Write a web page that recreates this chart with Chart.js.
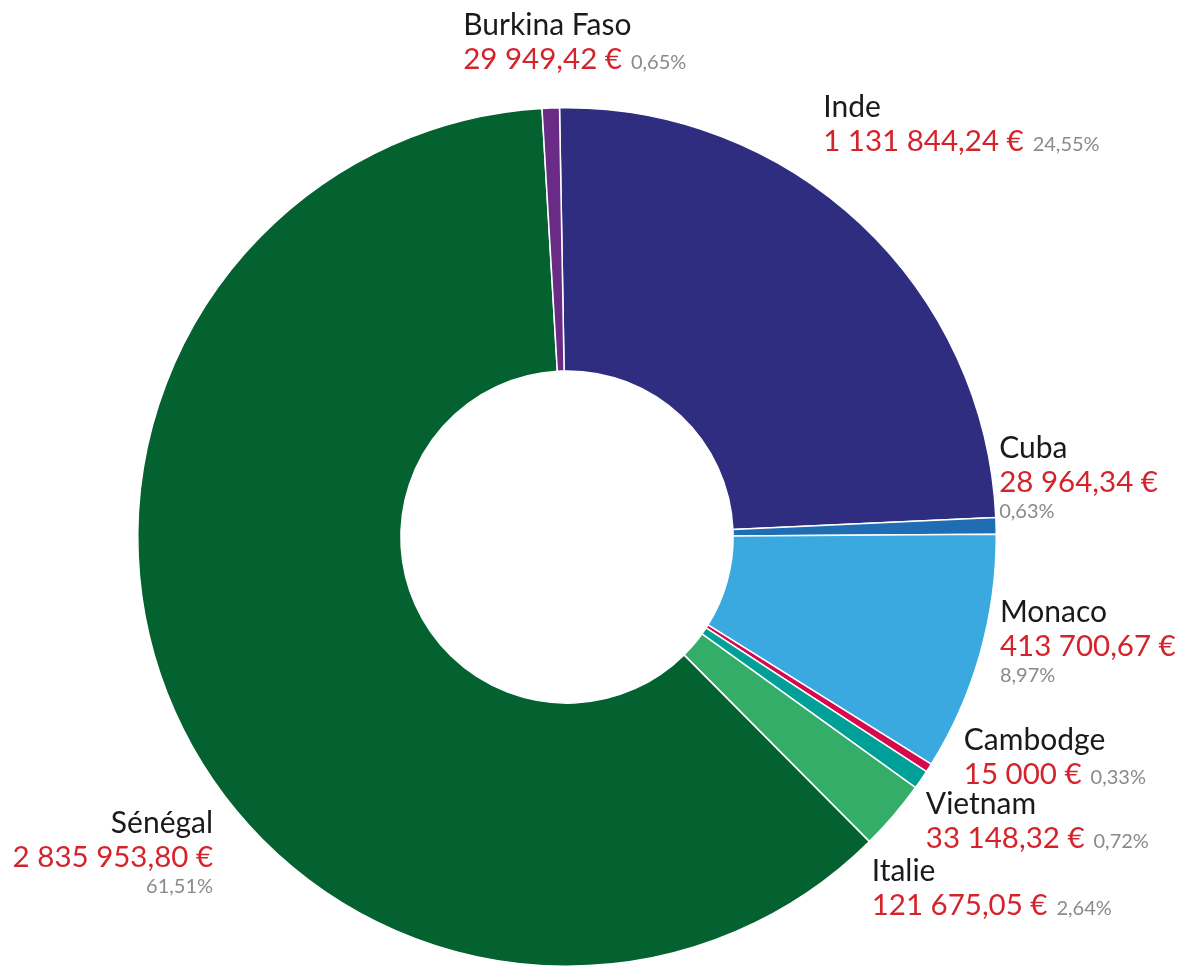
<!DOCTYPE html>
<html>
<head>
<meta charset="utf-8">
<script src="https://cdn.jsdelivr.net/npm/chart.js@4.4.1/dist/chart.umd.min.js"></script>
<style>
    html, body { margin: 0; padding: 0; background: #ffffff; }
    #wrap { width: 1190px; height: 969px; position: relative; }
</style>
</head>
<body>
<div id="wrap"><canvas id="donationsChart"></canvas></div>
<script>
// données
const pays = ['Inde', 'Cuba', 'Monaco', 'Cambodge', 'Vietnam', 'Italie', 'Sénégal', 'Burkina Faso'];
const montants = [1131844.24, 28964.34, 413700.67, 15000, 33148.32, 121675.05, 2835953.80, 29949.42];
const couleurs = ['#2e2d80', '#1f6db3', '#39a9e0', '#d6094f', '#009f97', '#33ad67', '#03622f', '#6a2b86'];

// placement des étiquettes (décalage depuis le bord extérieur de chaque part)
const etiquettes = [
    { dx: -43, dy: -112, align: 'left', wrap: false },   // Inde
    { dx: 3, dy: -75, align: 'left', wrap: true },       // Cuba
    { dx: 22, dy: -39, align: 'left', wrap: true },      // Monaco
    { dx: 39, dy: -24, align: 'left', wrap: false },     // Cambodge
    { dx: 9, dy: 28, align: 'left', wrap: false },       // Vietnam
    { dx: -17, dy: 60, align: 'left', wrap: false },     // Italie
    { dx: 41, dy: 128, align: 'right', wrap: true },     // Sénégal
    { dx: -95, dy: -73, align: 'left', wrap: false }     // Burkina Faso
];

const FONT = 'Lato, "Open Sans", sans-serif';

function formatEuro(v) {
    const entier = Math.floor(v);
    const cents = Math.round((v - entier) * 100);
    const txt = String(entier).replace(/\B(?=(\d{3})+(?!\d))/g, ' ');
    return cents === 0 ? txt + ' €' : txt + ',' + String(cents).padStart(2, '0') + ' €';
}

function formatPct(p) {
    return p.toFixed(2).replace('.', ',') + '%';
}

const total = montants.reduce((a, b) => a + b, 0);

const outLabels = {
    id: 'outLabels',
    afterDatasetsDraw(chart) {
        const ctx = chart.ctx;
        const meta = chart.getDatasetMeta(0);
        meta.data.forEach((arc, i) => {
            // point de référence : milieu de la part sur le bord extérieur (sans la rotation)
            const mid = (arc.startAngle + arc.endAngle) / 2 + Math.PI / 180;
            const px = arc.x + Math.cos(mid) * arc.outerRadius;
            const py = arc.y + Math.sin(mid) * arc.outerRadius;
            const cfg = etiquettes[i];
            const x = px + cfg.dx;
            const y = py + cfg.dy;
            const valeur = formatEuro(montants[i]);
            const pct = formatPct(montants[i] / total * 100);

            ctx.save();
            ctx.textBaseline = 'alphabetic';
            ctx.textAlign = cfg.align;

            ctx.font = '400 30px ' + FONT;
            ctx.fillStyle = '#1a1a1a';
            ctx.fillText(pays[i], x, y);

            ctx.font = '400 29.5px ' + FONT;
            ctx.fillStyle = '#d5232c';
            ctx.fillText(valeur, x, y + 34);
            const wVal = ctx.measureText(valeur).width;

            ctx.font = '400 20px ' + FONT;
            ctx.fillStyle = '#8a8a8a';
            if (cfg.wrap) {
                ctx.fillText(pct, x, y + 60);
            } else {
                ctx.textAlign = 'left';
                ctx.fillText(pct, x + wVal + 9, y + 34);
            }
            ctx.restore();
        });
    }
};

new Chart(document.getElementById('donationsChart'), {
    type: 'doughnut',
    data: {
        labels: pays,
        datasets: [{
            data: montants,
            backgroundColor: couleurs,
            borderColor: '#ffffff',
            borderWidth: 1.5,
            hoverOffset: 0
        }]
    },
    options: {
        responsive: true,
        maintainAspectRatio: false,
        animation: false,
        rotation: -1,
        cutout: '38.7%',
        layout: {
            padding: { top: 107, bottom: 2, left: 0, right: 56 }
        },
        plugins: {
            legend: { display: false },
            tooltip: { enabled: false }
        }
    },
    plugins: [outLabels]
});
</script>
</body>
</html>
